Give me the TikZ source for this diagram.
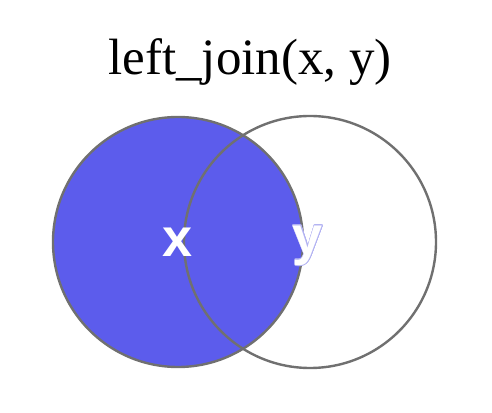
\documentclass[tikz,border=0pt]{standalone}
\usepackage{fontspec}
\setmainfont{Liberation Serif}
\setsansfont{Liberation Sans}
\usepackage[copies]{contour}
\contourlength{0.7pt}
\definecolor{joinblue}{RGB}{92,92,236}
\definecolor{ringgray}{RGB}{112,112,112}
\definecolor{lavender}{RGB}{178,178,242}

\begin{document}
\begin{tikzpicture}[x=1pt,y=1pt,
  ring/.style={circle,minimum size=250pt,inner sep=0pt,draw=ringgray,line width=2.4pt},
  setlabel/.style={white,font=\sffamily\bfseries\fontsize{54}{54}\selectfont,inner sep=0pt}]
  \useasboundingbox (0,0) rectangle (492,412);
  \node[ring,fill=joinblue] (x) at (178,170) {};
  \node[ring,minimum size=252pt] (y) at (310,170) {};
  \node[setlabel] (xlabel) at (x.center) {x};
  \node[setlabel] (ylabel) at (308,166) {\contour{lavender}{y}};
  \node[font=\fontsize{51}{51}\selectfont,anchor=base] (title) at (250,337) {left\_join(x, y)};
\end{tikzpicture}
\end{document}
